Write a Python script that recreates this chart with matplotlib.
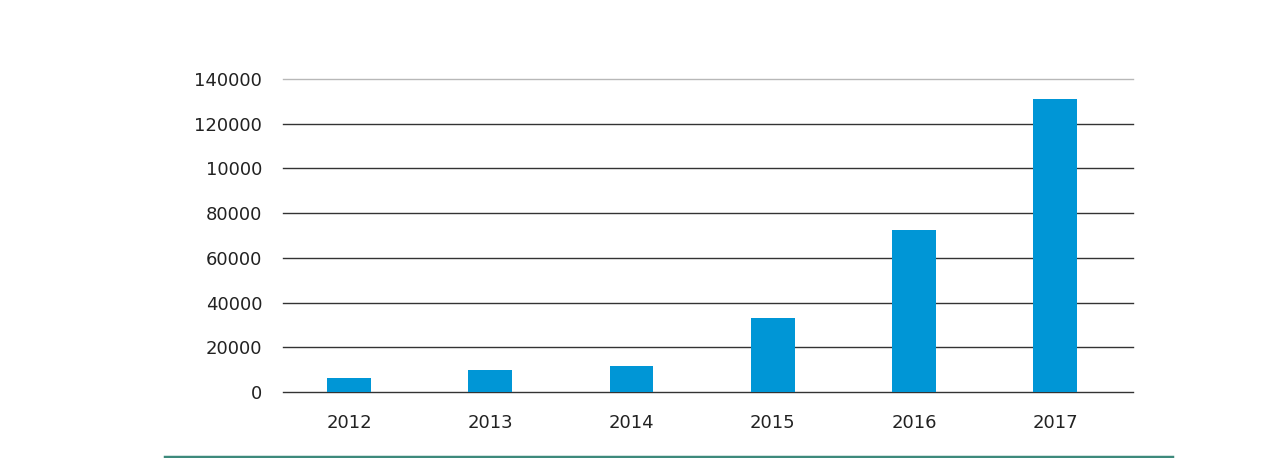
import numpy as np
import matplotlib
matplotlib.use("Agg")
import matplotlib.pyplot as plt
from matplotlib.lines import Line2D

# dati
years = ['2012', '2013', '2014', '2015', '2016', '2017']
values = [6300, 9800, 11600, 33100, 72400, 131000]
y_ticks = [0, 20000, 40000, 60000, 80000, 100000, 120000, 140000]
y_tick_labels = ['0', '20000', '40000', '60000', '80000', '10000', '120000', '140000']

bar_color = '#0096d6'
grid_color = '#333333'

fig = plt.figure(figsize=(12.69, 4.58), dpi=100)
ax = fig.add_axes([283 / 1269, 1 - 392 / 458, 850 / 1269, 313 / 458])

x = np.arange(len(years))
ax.bar(x, values, width=0.31, color=bar_color, zorder=3)

ax.set_xlim(-0.467, 5.55)
ax.set_ylim(0, 140000)
ax.set_xticks(x)
ax.set_xticklabels(years)
ax.set_yticks(y_ticks)
ax.set_yticklabels(y_tick_labels)

# linee orizzontali della griglia
for t in y_ticks:
    c = '#b8b8b8' if t == y_ticks[-1] else grid_color
    ax.axhline(t, color=c, linewidth=1.0, zorder=1, clip_on=False)

for s in ax.spines.values():
    s.set_visible(False)
ax.tick_params(axis='both', length=0, labelsize=13, colors='#222222')
ax.tick_params(axis='y', pad=15)
ax.tick_params(axis='x', pad=16)

# linea verde in basso
fig.add_artist(Line2D([165 / 1269, 1172 / 1269], [1.5 / 458, 1.5 / 458],
                      color='#3d8a7c', linewidth=2.5))

fig.savefig('out.png', dpi=100)
